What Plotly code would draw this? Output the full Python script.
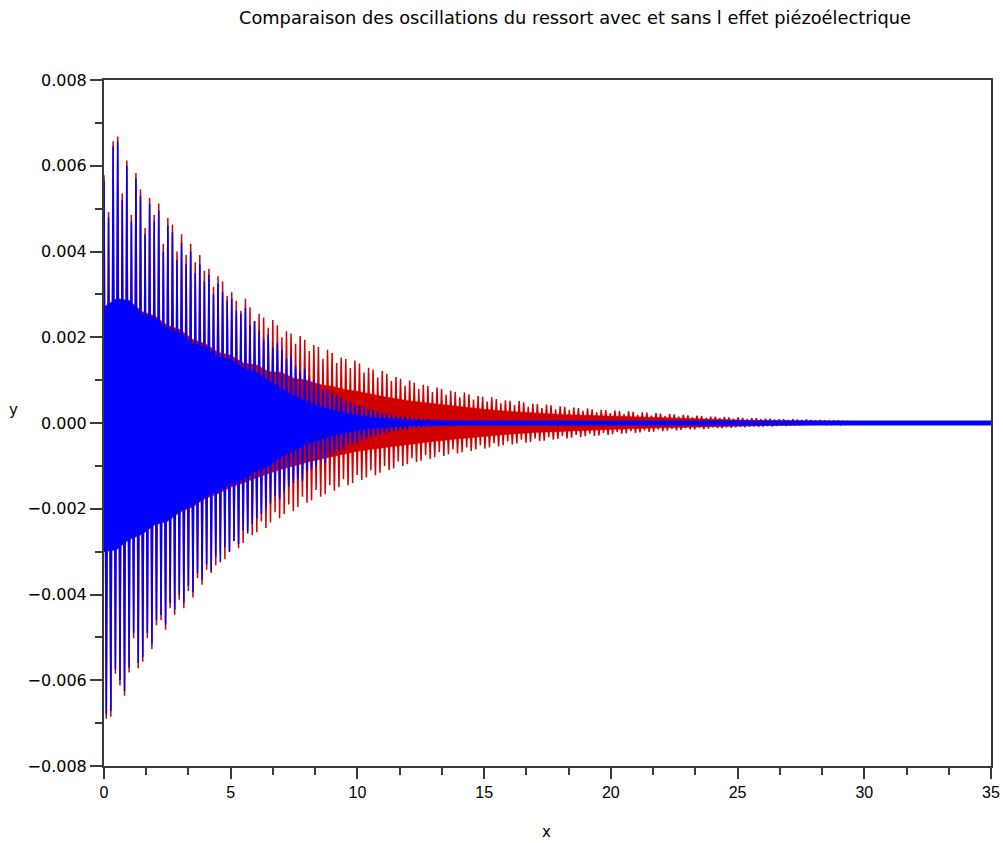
import plotly.graph_objects as go

# ---- data (values in units of 1e-5) ----
STEP = 0.18  # spacing between successive upper peaks (x units)

blue_top = [565, 480, 645, 657, 520, 600, 470, 570, 530, 440,
            510, 470, 495, 400, 460, 445, 380, 420, 370, 400,
            350, 370, 330, 345, 300, 325, 305, 285, 290, 262,
            255, 268, 228, 238, 215, 195, 206, 176, 186, 170,
            150, 156, 132, 120, 126, 104, 100, 92, 78, 80,
            70, 66, 60, 52, 50, 44, 40, 37, 32, 30,
            26, 24, 22, 19, 18, 16, 14, 13, 12, 10,
            9, 9, 8, 7, 6, 6, 5, 5, 5]
blue_bot = [-680, -672, -575, -600, -625, -570, -490, -560, -545, -490,
            -515, -460, -448, -470, -420, -435, -400, -420, -380, -395,
            -350, -365, -330, -345, -312, -325, -290, -300, -275, -282,
            -250, -258, -235, -222, -212, -200, -188, -170, -178, -160,
            -148, -140, -130, -135, -112, -108, -100, -88, -92, -78,
            -70, -66, -62, -52, -50, -46, -40, -38, -33, -30,
            -27, -24, -21, -19, -18, -15, -14, -12, -11, -10,
            -9, -8, -8, -7, -6, -6, -5, -5, -5]

red_top = [578, 492, 657, 668, 535, 612, 485, 583, 545, 455,
           525, 485, 512, 418, 478, 463, 400, 440, 392, 418,
           375, 392, 355,
           360, 318, 342, 330, 296, 305, 285, 262, 290, 270,
           238, 255, 246, 222, 240, 228, 200, 214, 209, 185,
           203, 194, 168, 182, 178, 150, 171, 163, 140, 153,
           149, 128, 146, 139, 118, 129, 125, 106, 121, 115,
           98, 107, 103, 87, 99, 94, 80, 89, 86, 72,
           83, 79, 66, 75, 72, 60, 71, 67, 55, 63,
           61, 50, 60, 56, 46, 53, 52, 42, 51, 48,
           38, 45, 44, 35, 43, 41, 32, 39, 38, 30,
           36, 35, 28, 34, 32, 25, 31, 30, 23, 29,
           28, 21, 27, 26, 19, 25, 24, 17, 23, 22,
           16, 21, 20, 15, 19, 18, 13, 17, 16, 12,
           15, 15, 11, 14, 13, 10, 13, 12, 9, 11,
           11, 9, 10, 10, 8, 9, 9, 7, 9, 8,
           7, 8, 7, 6, 7, 6, 5, 6, 5, 4,
           4, 3]
red_bot = [-690, -685, -585, -612, -636, -582, -502, -572, -557, -502,
           -527, -472, -460, -482, -432, -447, -412, -432, -392, -407,
           -362, -377, -342,
           -350, -332, -305, -318, -300, -275, -292, -280, -252, -262,
           -255, -230, -245, -232, -208, -222, -212, -190, -205, -196,
           -172, -186, -180, -156, -172, -166, -145, -158, -150, -131,
           -145, -140, -121, -133, -127, -110, -122, -116, -100, -110,
           -106, -90, -100, -96, -82, -91, -88, -75, -84, -80,
           -68, -77, -73, -62, -71, -68, -57, -65, -62, -52,
           -60, -57, -47, -55, -52, -43, -50, -48, -39, -46,
           -44, -36, -42, -41, -33, -39, -37, -30, -36, -34,
           -28, -33, -31, -25, -30, -29, -23, -28, -26, -21,
           -25, -24, -19, -23, -22, -17, -21, -20, -15, -19,
           -18, -14, -17, -16, -12, -15, -15, -11, -14, -13,
           -10, -12, -12, -10, -11, -10, -9, -10, -9, -8,
           -9, -8, -7, -8, -7, -6, -7, -6, -5, -6,
           -5, -4, -5, -4, -4, -3, -5, -4, -4, -3,
           -3, -3]

# dense inner band (solid region)
red_core_x = [0, 0.5, 1, 1.5, 2, 2.5, 3, 3.5, 4, 4.5, 5, 5.5, 6, 6.5, 7, 7.5, 8, 8.5, 9, 9.5,
              10, 11, 12, 13, 14, 15, 16, 17, 18, 19, 20, 21, 22, 23, 24, 25, 26, 28, 30, 32, 35]
red_core_hi = [270, 290, 285, 260, 250, 228, 218, 195, 185, 165, 158, 140, 136, 120, 118, 104, 100, 90, 86, 78,
               74, 62, 52, 45, 38, 32, 27, 23, 20, 18, 16, 14, 12, 10, 9, 7, 6, 4, 3, 2, 2]
red_core_lo = [-300, -295, -272, -260, -238, -230, -208, -196, -176, -165, -150, -140, -128, -118, -108, -100, -92, -85, -78, -72,
               -66, -58, -50, -43, -37, -31, -26, -22, -19, -17, -15, -13, -11, -10, -8, -7, -6, -4, -3, -2, -2]
blue_core_x = [0, 0.5, 1, 1.5, 2, 2.5, 3, 3.5, 4, 4.5, 5, 5.5, 6, 6.5, 7, 7.5, 8, 8.5, 9, 9.5,
               10, 10.5, 11, 11.5, 12, 13, 14, 35]
blue_core_hi = [270, 290, 285, 255, 245, 220, 210, 185, 178, 155, 148, 128, 118, 98, 80, 63, 50, 38, 30, 23,
                17, 13, 10, 8, 6, 5, 5, 5]
blue_core_lo = [-300, -295, -270, -258, -235, -228, -205, -192, -172, -160, -142, -132, -112, -100, -78, -64, -48, -39, -29, -23,
                -17, -13, -10, -8, -6, -5, -5, -5]

SCALE = 1e-5
RED = "#d00000"
BLUE = "#0000ff"


def zigzag(top, bot):
    xs, ys = [], []
    for k, (a, b) in enumerate(zip(top, bot)):
        xs += [k * STEP, k * STEP + STEP / 2]
        ys += [a * SCALE, b * SCALE]
    return xs, ys


def band(cx, hi, lo):
    xs = list(cx) + list(reversed(cx))
    ys = [v * SCALE for v in hi] + [v * SCALE for v in reversed(lo)]
    return xs, ys


fig = go.Figure()

bx, by = band(red_core_x, red_core_hi, red_core_lo)
fig.add_trace(go.Scatter(x=bx, y=by, fill="toself", fillcolor=RED, mode="lines",
                         line=dict(color=RED, width=0.5), hoverinfo="skip", showlegend=False))
zx, zy = zigzag(red_top, red_bot)
fig.add_trace(go.Scatter(x=zx, y=zy, mode="lines", line=dict(color=RED, width=1.5), showlegend=False))

bx, by = band(blue_core_x, blue_core_hi, blue_core_lo)
fig.add_trace(go.Scatter(x=bx, y=by, fill="toself", fillcolor=BLUE, mode="lines",
                         line=dict(color=BLUE, width=0.5), hoverinfo="skip", showlegend=False))
zx, zy = zigzag(blue_top, blue_bot)
fig.add_trace(go.Scatter(x=zx, y=zy, mode="lines", line=dict(color=BLUE, width=1.5), showlegend=False))

TFONT = "DejaVu Sans"
axis_common = dict(showline=True, mirror=True, linecolor="#3a3a3a", linewidth=2,
                   showgrid=False, zeroline=False, ticks="outside", tickcolor="#3a3a3a",
                   tickwidth=1.5, automargin=False)

fig.update_layout(
    width=1003, height=843,
    margin=dict(l=104, r=12, t=80, b=77),
    paper_bgcolor="white", plot_bgcolor="white",
    showlegend=False,
    xaxis=dict(range=[0, 35], dtick=5, tick0=0, ticklen=11,
               tickfont=dict(family="Liberation Sans", size=16, color="black"),
               minor=dict(dtick=5 / 3, tick0=0, ticks="outside", ticklen=7, tickcolor="#3a3a3a", tickwidth=1.5),
               **axis_common),
    yaxis=dict(range=[-0.008, 0.008], dtick=0.002, tick0=0, ticklen=12, tickformat=".3f",
               tickfont=dict(family=TFONT, size=16, color="black"),
               minor=dict(dtick=0.001, tick0=0, ticks="outside", ticklen=7, tickcolor="#3a3a3a", tickwidth=1.5),
               **axis_common),
    annotations=[
        dict(text="Comparaison des oscillations du ressort avec et sans l effet piézoélectrique",
             xref="paper", yref="paper", x=0.531, y=1.0904, showarrow=False,
             xanchor="center", yanchor="middle", font=dict(family=TFONT, size=17.8, color="black")),
        dict(text="y", xref="paper", yref="paper", x=-0.1015, y=0.519, showarrow=False,
             xanchor="center", yanchor="middle", font=dict(family=TFONT, size=15, color="black")),
        dict(text="x", xref="paper", yref="paper", x=0.4994, y=-0.0962, showarrow=False,
             xanchor="center", yanchor="middle", font=dict(family=TFONT, size=15, color="black")),
    ],
)

fig.write_html("out.html", config={"displayModeBar": False},
               post_script="document.body.style.margin='0';document.body.style.overflow='hidden';")
